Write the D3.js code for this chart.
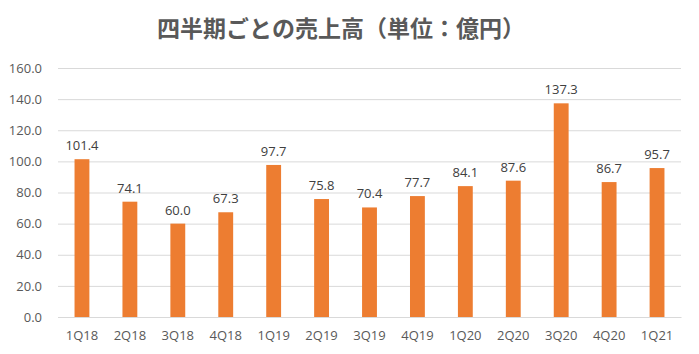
<!DOCTYPE html>
<html>
<head>
<meta charset="UTF-8">
<script src="https://cdn.jsdelivr.net/npm/d3@7"></script>
<style>
  body { margin: 0; background: #fff; }
  text { font-family: "Open Sans", "Noto Sans", sans-serif; }
</style>
</head>
<body>
<script>
// 四半期ラベルと売上高（億円）
var quarters = ["1Q18","2Q18","3Q18","4Q18","1Q19","2Q19","3Q19","4Q19","1Q20","2Q20","3Q20","4Q20","1Q21"];
var sales = [101.4, 74.1, 60.0, 67.3, 97.7, 75.8, 70.4, 77.7, 84.1, 87.6, 137.3, 86.7, 95.7];
var yTicks = [0, 20, 40, 60, 80, 100, 120, 140, 160];

var width = 699, height = 354;
var margin = {top: 68, right: 18, bottom: 37, left: 58};

var svg = d3.select("body").append("svg")
    .attr("width", width)
    .attr("height", height);

svg.append("text")
    .attr("x", 341)
    .attr("y", 37)
    .attr("text-anchor", "middle")
    .style("font-family", "'Noto Sans CJK JP', sans-serif")
    .style("font-size", "23px")
    .style("font-weight", "bold")
    .style("fill", "#595959")
    .text("四半期ごとの売上高（単位：億円）");

var x = d3.scaleBand()
    .domain(quarters)
    .range([margin.left, width - margin.right])
    .paddingInner(0.69)
    .paddingOuter(0.345);

var y = d3.scaleLinear()
    .domain([0, 160])
    .range([height - margin.bottom, margin.top]);

// 目盛線
var yAxis = svg.append("g")
    .attr("transform", "translate(" + margin.left + ",0)")
    .call(d3.axisLeft(y).tickValues(yTicks)
        .tickSize(-(width - margin.left - margin.right))
        .tickPadding(16)
        .tickFormat(d3.format(".1f")));
yAxis.select(".domain").remove();
yAxis.selectAll("line").attr("stroke", "#d9d9d9");
yAxis.selectAll("text")
    .style("font-size", "13px")
    .style("fill", "#595959");

svg.selectAll("rect.bar")
    .data(sales)
    .enter()
    .append("rect")
    .attr("class", "bar")
    .attr("x", function(d, i) { return x(quarters[i]); })
    .attr("y", function(d) { return y(d); })
    .attr("width", x.bandwidth())
    .attr("height", function(d) { return y(0) - y(d); })
    .attr("fill", "#ed7d31");

svg.selectAll("text.val")
    .data(sales)
    .enter()
    .append("text")
    .attr("class", "val")
    .attr("x", function(d, i) { return x(quarters[i]) + x.bandwidth() / 2; })
    .attr("y", function(d) { return y(d) - 9; })
    .attr("text-anchor", "middle")
    .style("font-size", "13px")
    .style("fill", "#404040")
    .text(function(d) { return d.toFixed(1); });

var xAxis = svg.append("g")
    .attr("transform", "translate(0," + y(0) + ")")
    .call(d3.axisBottom(x).tickSize(0).tickPadding(14));
xAxis.select(".domain").attr("stroke", "#d9d9d9");
xAxis.selectAll("text")
    .style("font-size", "13px")
    .style("fill", "#595959");
</script>
</body>
</html>
